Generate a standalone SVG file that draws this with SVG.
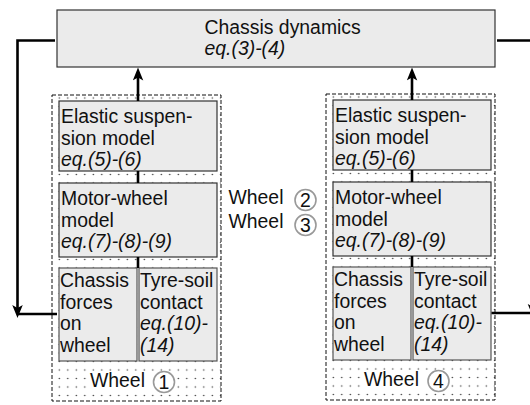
<svg xmlns="http://www.w3.org/2000/svg" width="530" height="405" viewBox="0 0 530 405">
<style>
text{font-family:"Liberation Sans",Arial,sans-serif;font-size:19.4px;fill:#111}
.it{font-style:italic}
.box{fill:#ebebeb;stroke:#333;stroke-width:1.2}
.sbox{fill:#ebebeb;stroke:#555;stroke-width:1.2}
.frame{stroke:#111;stroke-width:1;stroke-dasharray:4 2}
.ring{fill:none;stroke:#999;stroke-width:1.6}
.num{text-anchor:middle}
.wire{fill:none;stroke:#000;stroke-width:2.6}
.lbg{fill:#fff}
</style>
<defs>
<pattern id="dotsL" patternUnits="userSpaceOnUse" x="55.05" y="170.25" width="8.5" height="8.5">
<circle cx="4.25" cy="4.25" r="0.75" fill="#333"/>
</pattern>
<pattern id="dotsR" patternUnits="userSpaceOnUse" x="329.05" y="169.25" width="8.5" height="8.5">
<circle cx="4.25" cy="4.25" r="0.75" fill="#333"/>
</pattern>
<marker id="arr" markerUnits="userSpaceOnUse" markerWidth="14" markerHeight="11" refX="5" refY="5.25" orient="auto">
<path d="M0,0 L13,5.25 L0,10.5 L3,5.25 Z" fill="#000"/>
</marker>
</defs>

<g id="chassis-dynamics">
<rect class="box" x="57" y="10" width="438" height="57"/>
<text x="204.5" y="33.5">Chassis dynamics</text>
<text class="it" x="204.5" y="55">eq.(3)-(4)</text>
</g>

<g id="wheel-1">
<rect class="frame" x="52" y="95" width="169" height="306" fill="url(#dotsL)"/>
<rect class="lbg" x="87" y="371" width="90" height="23"/>
<text x="90" y="386.5">Wheel</text>
<circle class="ring" cx="164" cy="382" r="10.5"/>
<text class="num" x="164" y="388.8">1</text>
</g>
<g id="elastic-1">
<rect class="box" x="59" y="101" width="158" height="70"/>
<text x="61" y="123">Elastic suspen-</text>
<text x="61" y="144.5">sion model</text>
<text class="it" x="61" y="166">eq.(5)-(6)</text>
</g>
<g id="motor-1">
<rect class="box" x="59" y="183" width="158" height="74"/>
<text x="61" y="205">Motor-wheel</text>
<text x="61" y="226.5">model</text>
<text class="it" x="61" y="248">eq.(7)-(8)-(9)</text>
</g>
<g id="forces-1">
<rect class="sbox" x="59" y="268" width="78" height="93"/>
<text x="60" y="287">Chassis</text>
<text x="60" y="308.5">forces</text>
<text x="60" y="330">on</text>
<text x="60" y="351.5">wheel</text>
</g>
<g id="tyre-1">
<rect class="sbox" x="139" y="268" width="78" height="93"/>
<text x="140" y="287">Tyre-soil</text>
<text x="140" y="308.5">contact</text>
<text class="it" x="140" y="330">eq.(10)-</text>
<text class="it" x="140" y="351.5">(14)</text>
</g>

<g id="wheel-4">
<rect class="frame" x="326" y="94" width="169" height="306" fill="url(#dotsR)"/>
<rect class="lbg" x="361" y="370" width="90" height="23"/>
<text x="364" y="385.5">Wheel</text>
<circle class="ring" cx="438.5" cy="381" r="10.5"/>
<text class="num" x="438.5" y="387.8">4</text>
</g>
<g id="elastic-4">
<rect class="box" x="333" y="100" width="158" height="70"/>
<text x="335" y="122">Elastic suspen-</text>
<text x="335" y="143.5">sion model</text>
<text class="it" x="335" y="165">eq.(5)-(6)</text>
</g>
<g id="motor-4">
<rect class="box" x="333" y="182" width="158" height="74"/>
<text x="335" y="204">Motor-wheel</text>
<text x="335" y="225.5">model</text>
<text class="it" x="335" y="247">eq.(7)-(8)-(9)</text>
</g>
<g id="forces-4">
<rect class="sbox" x="333" y="267" width="78" height="93"/>
<text x="334" y="286">Chassis</text>
<text x="334" y="307.5">forces</text>
<text x="334" y="329">on</text>
<text x="334" y="350.5">wheel</text>
</g>
<g id="tyre-4">
<rect class="sbox" x="413" y="267" width="78" height="93"/>
<text x="414" y="286">Tyre-soil</text>
<text x="414" y="307.5">contact</text>
<text class="it" x="414" y="329">eq.(10)-</text>
<text class="it" x="414" y="350.5">(14)</text>
</g>

<g id="wheels-2-3">
<text x="228.5" y="203.5">Wheel</text>
<circle class="ring" cx="305.5" cy="200" r="10.5"/>
<text class="num" x="305.5" y="206.8">2</text>
<text x="228.5" y="227.5">Wheel</text>
<circle class="ring" cx="305.5" cy="225" r="10.5"/>
<text class="num" x="305.5" y="231.8">3</text>
</g>

<g id="connectors">
<path class="wire" d="M138,101 V75.5" marker-end="url(#arr)"/>
<path class="wire" d="M138,171 V183"/>
<path class="wire" d="M138,257 V268"/>
<path class="wire" d="M412,100 V75.5" marker-end="url(#arr)"/>
<path class="wire" d="M412,170 V182"/>
<path class="wire" d="M412,256 V267"/>
<path class="wire" d="M55,40.5 H17.5 V310" marker-end="url(#arr)"/>
<path class="wire" d="M17.5,314 H57"/>
<path class="wire" d="M497,40.5 H533 V309" marker-end="url(#arr)"/>
<path class="wire" d="M491.5,313 H533"/>
</g>
</svg>
